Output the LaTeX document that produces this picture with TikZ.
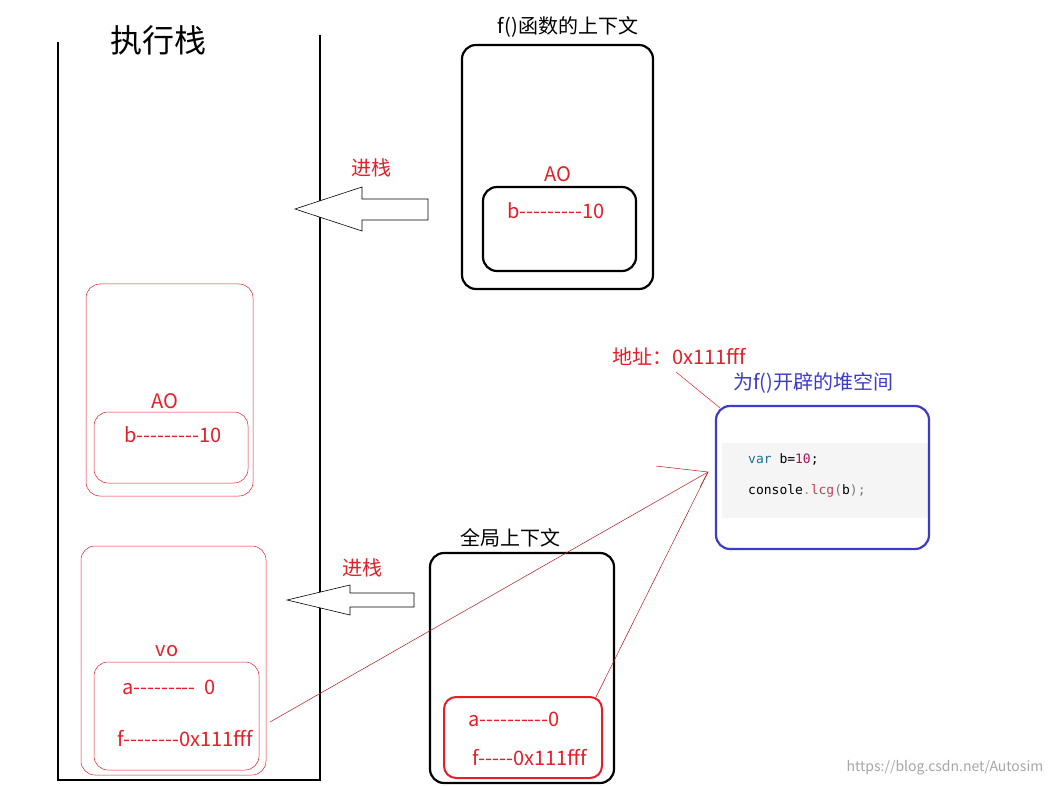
\documentclass[tikz,border=0pt]{standalone}
\usepackage{fontspec}
\setmainfont{Noto Sans CJK SC}
\setmonofont{DejaVu Sans Mono}
\usetikzlibrary{arrows.meta}
\definecolor{rd}{RGB}{230,30,40}
\definecolor{bl}{RGB}{60,60,200}
\newcommand\dd[1]{\foreach \i in {1,...,#1}{-\kern0pt}}
\begin{document}
\begin{tikzpicture}[x=1pt,y=-1pt,
  blk/.style={draw=black,line width=2.2pt,rounded corners=14pt},
  rbox/.style={draw=rd,line width=0.5pt,rounded corners=14pt},
  rt/.style={text=rd,font=\fontsize{20}{22}\selectfont,inner sep=0pt},
  kt/.style={text=black,font=\fontsize{20}{22}\selectfont,inner sep=0pt},
  fat/.style={draw=black,line width=0.6pt,fill=white}]
\useasboundingbox (0,0) rectangle (1057,786);
\fill[white] (0,0) rectangle (1057,786);
% stack
\draw[line width=2.4pt] (58,42) -- (58,780) -- (320,780) -- (320,35);
\node[kt,font=\fontsize{32}{34}\selectfont] (title) at (158,40) {执行栈};
% f context
\draw[blk] (462,45) rectangle (653,289);
\node[kt] (fctx) at (568,27) {f()函数的上下文};
\node[rt] (ao1) at (558,174) {AO};
\draw[blk] (483,187) rectangle (636,271);
\node[rt] (b1) at (556,211) {b\dd{9}10};
% arrow 1
\draw[fat] (295,209) -- (362,187) -- (362,199) -- (428,199) -- (428,220) -- (362,220) -- (362,231) -- cycle;
\node[rt] (push1) at (371,168) {进栈};
% frames
\draw[rbox] (86,284) rectangle (253,496);
\node[rt] (ao2) at (165,401) {AO};
\draw[rbox] (94,412) rectangle (248,483);
\node[rt] (b2) at (173,435) {b\dd{9}10};
\draw[rbox] (81,546) rectangle (266,775);
\node[rt] (vo) at (167,651) {vo};
\draw[rbox] (94,662) rectangle (259,770);
\node[rt] (a2) at (169,687) {a\dd{9}\ \ 0};
\node[rt] (f2) at (185,739) {f\dd{8}0x111fff};
% arrow 2
\draw[fat] (287,600) -- (350,585) -- (350,593) -- (414,593) -- (414,607) -- (350,607) -- (350,615) -- cycle;
\node[rt] (push2) at (362,568) {进栈};
% global
\draw[blk] (430,553) rectangle (614,783);
\node[kt] (gctx) at (510,538) {全局上下文};
\draw[draw=rd,line width=2pt,rounded corners=12pt] (444,697) rectangle (602,778);
\node[rt] (a3) at (514,719) {a\dd{10}0};
\node[rt] (f3) at (530,758) {f\dd{5}0x111fff};
% heap
\fill[black!4] (722,443) rectangle (929,518);
\draw[draw=bl,line width=2.2pt,rounded corners=14pt] (716,406) rectangle (929,549);
\node[rt] (addr) at (679,357) {地址：0x111fff};
\node[kt,text=bl] (heapt) at (813,383) {为f()开辟的堆空间};
\node[anchor=west,inner sep=0pt,font=\ttfamily\fontsize{13}{15}\selectfont] (c1) at (748,459) {\textcolor[RGB]{30,110,150}{var} b=\textcolor[RGB]{170,20,80}{10};};
\node[anchor=west,inner sep=0pt,font=\ttfamily\fontsize{13}{15}\selectfont] (c2) at (748,491) {console\textcolor[RGB]{150,150,150}{.}\textcolor[RGB]{200,60,90}{lcg}\textcolor[RGB]{120,120,120}{(}b\textcolor[RGB]{120,120,120}{);}};
\coordinate (tip) at (708,472);
\coordinate (s1) at (270,722);
\coordinate (s2) at (596,697);
\coordinate (l1) at (676,372);
\coordinate (l2) at (720,408);
\draw[draw=rd!80!black,line width=0.5pt] (s1) -- (tip);
\draw[draw=rd!80!black,line width=0.5pt] (s2) -- (tip);
\draw[draw=rd!80!black,line width=0.5pt] (656,466) -- (tip) -- (700,487);
\draw[draw=rd,line width=0.5pt] (l1) -- (l2);
\node[text=black!35,font=\fontsize{14}{16}\selectfont,inner sep=0pt] (wm) at (945,768) {https://blog.csdn.net/Autosim};
\end{tikzpicture}
\end{document}
